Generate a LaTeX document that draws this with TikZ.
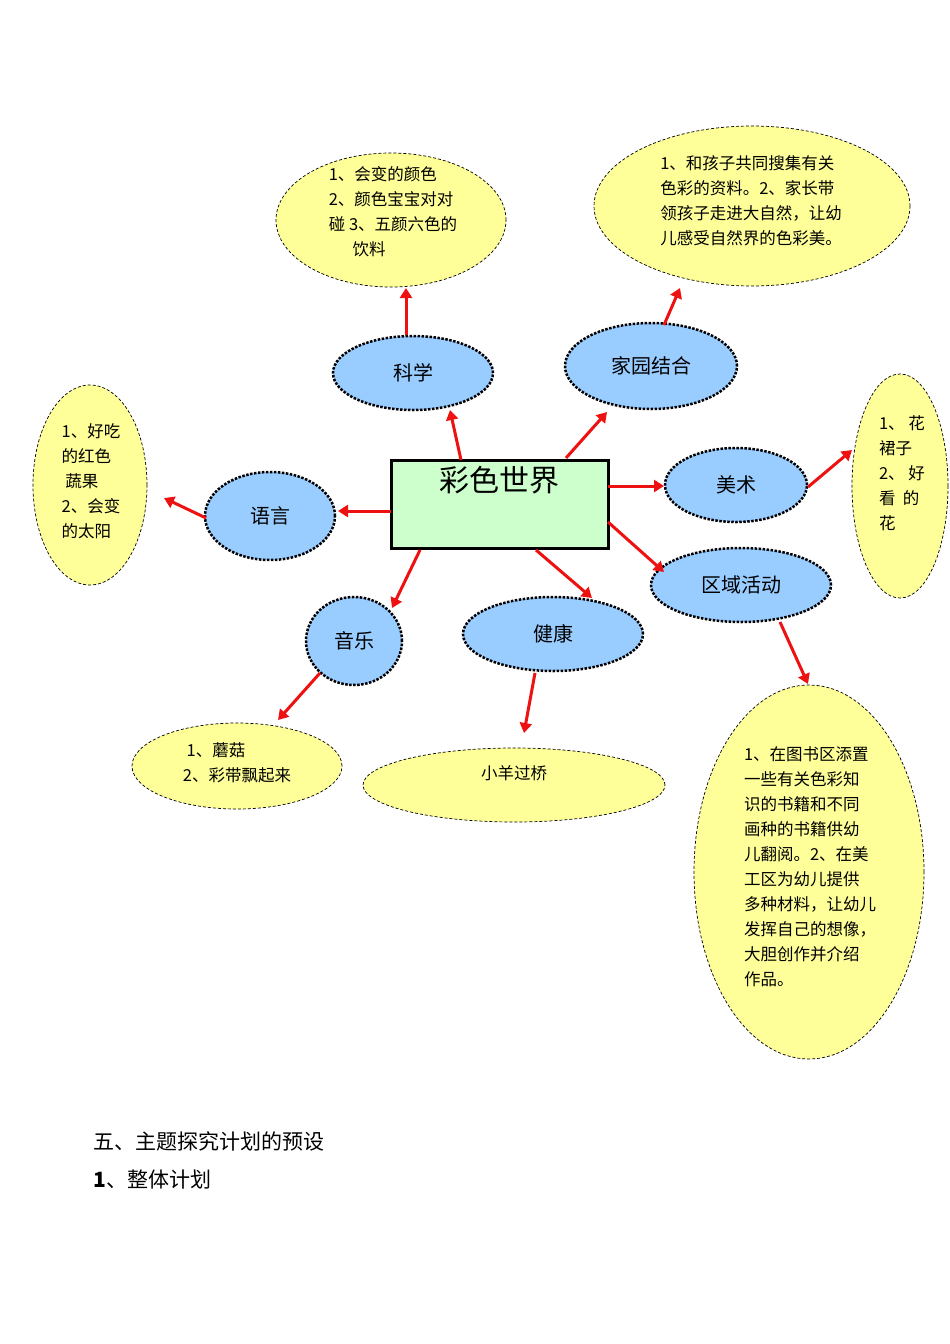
\documentclass[tikz,border=0pt]{standalone}
\usepackage{fontspec}
\setmainfont{Noto Sans CJK SC}
\usetikzlibrary{arrows.meta,shapes.geometric}
\definecolor{blu}{HTML}{99CCFF}
\definecolor{yel}{HTML}{FFFF99}
\definecolor{grn}{HTML}{CCFFCC}
\definecolor{arr}{HTML}{EE1111}
\tikzset{
 topic/.style={ellipse,fill=blu,draw=black,line width=2.5pt,dash pattern=on 2.5pt off 1.5pt,font=\fontsize{20}{24}\selectfont,inner sep=0pt},
 idea/.style={ellipse,fill=yel,draw=black,line width=0.7pt,dash pattern=on 3pt off 2pt,font=\fontsize{16.5}{25}\selectfont,inner sep=0pt},
 link/.style={draw=arr,line width=3pt,-{Triangle[length=10pt,width=12pt]}}
}
\begin{document}
\begin{tikzpicture}[x=1pt,y=-1pt]
\useasboundingbox (0,0) rectangle (950,1344);
\node[draw,line width=3pt,fill=grn,minimum width=217pt,minimum height=88pt] (c) at (499.5,504) {};
\node[font=\fontsize{30}{34}\selectfont] (ct) at (499,480) {彩色世界};
\node[topic,minimum width=160pt,minimum height=74pt] (kx) at (413,373) {科学};
\node[topic,minimum width=172pt,minimum height=86pt] (jy) at (651,366) {家园结合};
\node[topic,minimum width=142pt,minimum height=74pt] (ms) at (736,485) {美术};
\node[topic,minimum width=180pt,minimum height=74pt] (qy) at (741,585) {区域活动};
\node[topic,minimum width=180pt,minimum height=74pt] (jk) at (553,634) {健康};
\node[topic,minimum width=96pt,minimum height=88pt] (yy) at (354,641) {音乐};
\node[topic,minimum width=130pt,minimum height=88pt] (yu) at (270,516) {语言};
\node[idea,minimum width=230pt,minimum height=134pt] (i1) at (391,220) {};
\node[font=\fontsize{16.5}{25}\selectfont,align=left] at (393,212) {1、会变的颜色\\2、颜色宝宝对对\\碰 3、五颜六色的\\\quad\ \ 饮料};
\node[idea,minimum width=316pt,minimum height=160pt] (i2) at (752,206) {};
\node[font=\fontsize{16.5}{25}\selectfont,align=left] at (751,201) {1、和孩子共同搜集有关\\色彩的资料。2、家长带\\领孩子走进大自然，让幼\\儿感受自然界的色彩美。};
\node[idea,minimum width=114pt,minimum height=200pt] (i3) at (90,485) {};
\node[font=\fontsize{16.5}{25}\selectfont,align=left] at (91,481) {1、好吃\\的红色\\\ 蔬果\\2、会变\\的太阳};
\node[idea,minimum width=96pt,minimum height=224pt] (i4) at (900,486) {};
\node[font=\fontsize{16.5}{25}\selectfont,align=left] at (902,473) {1、 花\\裙子\\2、 好\\看\ \ 的\\花};
\node[idea,minimum width=210pt,minimum height=86pt] (i5) at (237,766) {};
\node[font=\fontsize{16.5}{25}\selectfont,align=left] at (237,763) {\ 1、蘑菇\\2、彩带飘起来};
\node[idea,minimum width=302pt,minimum height=74pt] (i6) at (514,785) {};
\node[font=\fontsize{16.5}{25}\selectfont] at (514,773) {小羊过桥};
\node[idea,minimum width=230pt,minimum height=374pt] (i7) at (809,872) {};
\node[font=\fontsize{16.5}{25}\selectfont,align=left] at (810,867) {1、在图书区添置\\一些有关色彩知\\识的书籍和不同\\画种的书籍供幼\\儿翻阅。2、在美\\工区为幼儿提供\\多种材料，让幼儿\\发挥自己的想像，\\大胆创作并介绍\\作品。};
\draw[link] (461,460) -- (450,410);
\draw[link] (566,458) -- (607,412);
\draw[link] (608,486) -- (664,486);
\draw[link] (608,522) -- (664,572);
\draw[link] (536,550) -- (592,598);
\draw[link] (420,550) -- (392,608);
\draw[link] (391,511) -- (338,511);
\draw[link] (406,335) -- (406,288);
\draw[link] (664,325) -- (680,288);
\draw[link] (808,487) -- (852,450);
\draw[link] (780,622) -- (808,684);
\draw[link] (535,673) -- (524,733);
\draw[link] (320,673) -- (278,720);
\draw[link] (206,518) -- (164,498);
\node[anchor=west,font=\fontsize{21}{25}\selectfont] (h1) at (90,1141) {五、主题探究计划的预设};
\node[anchor=west,font=\fontsize{21}{25}\selectfont] (h2) at (90,1180) {\textbf{1}、整体计划};
\end{tikzpicture}
\end{document}
